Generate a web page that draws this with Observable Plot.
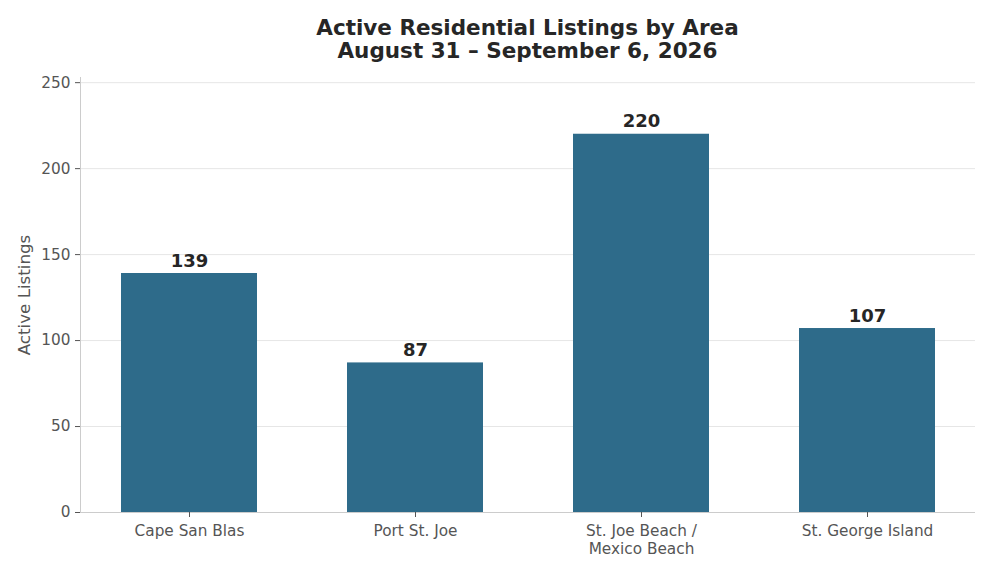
<!DOCTYPE html>
<html>
<head>
<meta charset="utf-8">
<script src="https://cdn.jsdelivr.net/npm/d3@7"></script>
<script src="https://cdn.jsdelivr.net/npm/@observablehq/plot@0.6"></script>
<style>
  html, body { margin: 0; padding: 0; background: #fff; }
  body { width: 990px; height: 572px; overflow: hidden; font-family: "DejaVu Sans", sans-serif; }
  #title { box-sizing: border-box; height: 60px; padding-top: 16px; padding-left: 80px; width: 975px;
           text-align: center; font-weight: bold; font-size: 21.5px; line-height: 23px; color: #262626; overflow: visible; }
  #chart svg { display: block; }
</style>
</head>
<body>
<div id="title">Active Residential Listings by Area<br>August 31 – September 6, 2026</div>
<div id="chart"></div>
<script>
const areas = ["Cape San Blas", "Port St. Joe", "St. Joe Beach /\nMexico Beach", "St. George Island"];
const listings = [139, 87, 220, 107];
const yTicks = [0, 50, 100, 150, 200, 250];

const data = areas.map((a, i) => ({area: a, value: listings[i]}));

const chart = Plot.plot({
  width: 990,
  height: 512,
  marginTop: 17,
  marginBottom: 60,
  marginLeft: 80,
  marginRight: 15,
  style: {fontFamily: "DejaVu Sans", background: "#fff"},
  x: {domain: areas, paddingInner: 0.4, paddingOuter: 0.18, label: null},
  y: {domain: [0, 253], label: null},
  marks: [
    Plot.gridY(yTicks, {stroke: "#e6e6e6", strokeOpacity: 1}),
    Plot.barY(data, {x: "area", y: "value", fill: "#2e6b8a"}),
    Plot.ruleY([0], {stroke: "#cccccc"}),
    Plot.frame({anchor: "left", stroke: "#cccccc"}),
    Plot.axisY(yTicks, {tickSize: 5, tickPadding: 5, fontSize: 15.3, color: "#555555", label: null}),
    Plot.axisX({tickSize: 5, tickPadding: 5, fontSize: 15.3, color: "#555555", lineHeight: 1.2, label: null}),
    Plot.text(data, {x: "area", y: "value", text: d => String(d.value), dy: -7, lineAnchor: "bottom",
                     fontSize: 18, fontWeight: "bold", fill: "#262626"}),
    Plot.text(["Active Listings"], {frameAnchor: "left", text: d => d, rotate: -90, dx: -56,
                     textAnchor: "middle", lineAnchor: "middle", fontSize: 16.7, fill: "#555555"})
  ]
});
document.getElementById("chart").appendChild(chart);
</script>
</body>
</html>
